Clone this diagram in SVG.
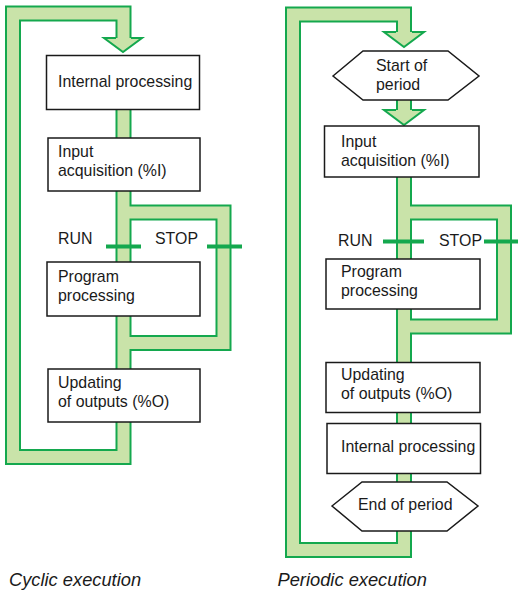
<svg xmlns="http://www.w3.org/2000/svg" width="518" height="592" viewBox="0 0 518 592">
<style>
.bd{fill:none;stroke:#14a84e;stroke-width:16}
.bl{fill:none;stroke:#c9e3a9;stroke-width:12}
.af{fill:#c9e3a9;stroke:none}
.ae{fill:none;stroke:#14a84e;stroke-width:2;stroke-linejoin:miter}
.bar{stroke:#14a84e;stroke-width:4}
.box{fill:#fff;stroke:#1a1a1a;stroke-width:1.5}
text{font-family:"Liberation Sans",Arial,sans-serif;font-size:15.9px;fill:#1a1a1a}
.cap{font-style:italic;font-size:18.3px}
</style>
<g id="connectors">
<path class="bd" d="M123.5,38 V13.5 H13 V457 H123.5 V60 M123.5,212.5 H223.5 V343 H123.5"/>
<path class="bl" d="M123.5,38 V13.5 H13 V457 H123.5 V60 M123.5,212.5 H223.5 V343 H123.5"/>
<polygon class="af" points="104,38 142,38 123,52"/>
<polyline class="ae" points="116,38 104,38 123,52 142,38 131,38"/>
<path class="bd" d="M404,32 V14.5 H293 V550 H404 V170 M404,212.5 H504 V326.5 H404 M404,95 V110"/>
<path class="bl" d="M404,32 V14.5 H293 V550 H404 V170 M404,212.5 H504 V326.5 H404 M404,95 V110"/>
<polygon class="af" points="384,32 424,32 404,47"/>
<polyline class="ae" points="396,32 384,32 404,47 424,32 412,32"/>
<polygon class="af" points="384,110 424,110 404,125"/>
<polyline class="ae" points="396,110 384,110 404,125 424,110 412,110"/>
<line class="bar" x1="106" y1="246.5" x2="141" y2="246.5"/>
<line class="bar" x1="207" y1="246.5" x2="242" y2="246.5"/>
<line class="bar" x1="383" y1="241.5" x2="424" y2="241.5"/>
<line class="bar" x1="484" y1="241.5" x2="518" y2="241.5"/>
</g>
<g id="c-internal"><rect class="box" x="46.5" y="55.5" width="153" height="54"/><text x="58" y="87">Internal processing</text></g>
<g id="c-input"><rect class="box" x="48" y="138" width="152" height="53"/><text x="58" y="157">Input</text><text x="58" y="176">acquisition (%I)</text></g>
<g id="c-run"><text x="58" y="244">RUN</text></g>
<g id="c-stop"><text x="155" y="244">STOP</text></g>
<g id="c-program"><rect class="box" x="47" y="262" width="153" height="54"/><text x="58" y="282">Program</text><text x="58" y="301">processing</text></g>
<g id="c-update"><rect class="box" x="48" y="369" width="152" height="53"/><text x="58" y="387.5">Updating</text><text x="58" y="406.5">of outputs (%O)</text></g>
<g id="p-start"><polygon class="box" points="333,76 363,51 448,51 479,76 448,100 363,100"/><text x="376" y="71">Start of</text><text x="376" y="90">period</text></g>
<g id="p-input"><rect class="box" x="324.5" y="126" width="154.5" height="51"/><text x="341" y="147">Input</text><text x="341" y="166">acquisition (%I)</text></g>
<g id="p-run"><text x="338" y="246">RUN</text></g>
<g id="p-stop"><text x="439" y="246">STOP</text></g>
<g id="p-program"><rect class="box" x="326" y="259" width="154" height="50"/><text x="341" y="277">Program</text><text x="341" y="296">processing</text></g>
<g id="p-update"><rect class="box" x="326" y="362.5" width="154" height="50"/><text x="341" y="380">Updating</text><text x="341" y="399">of outputs (%O)</text></g>
<g id="p-internal"><rect class="box" x="327" y="423.5" width="153.5" height="50"/><text x="341" y="452">Internal processing</text></g>
<g id="p-end"><polygon class="box" points="332,506 362,482 447,482 478,506 447,531 362,531"/><text x="358" y="509.5">End of period</text></g>
<g id="captions"><text class="cap" x="9" y="586">Cyclic execution</text><text class="cap" x="277.5" y="586">Periodic execution</text></g>
</svg>
